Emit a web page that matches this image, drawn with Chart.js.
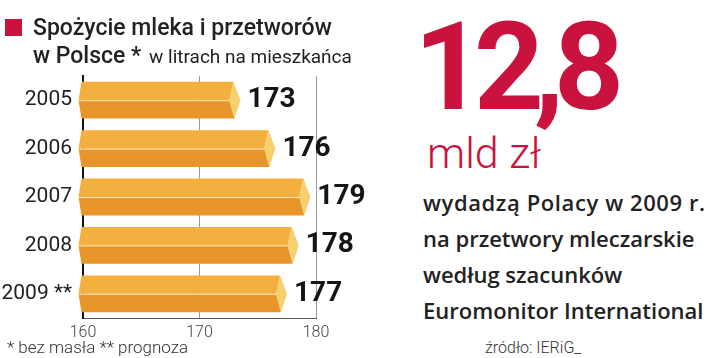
<!DOCTYPE html>
<html>
<head>
<meta charset="utf-8">
<script src="https://cdn.jsdelivr.net/npm/chart.js@4.4.0/dist/chart.umd.min.js"></script>
<style>
  html, body { margin: 0; padding: 0; background: #fff; }
  #wrap { position: relative; width: 720px; height: 358px; overflow: hidden; font-family: Roboto, sans-serif; }
  #wrap canvas { position: absolute; left: 0; top: 0; }
  .t { position: absolute; white-space: nowrap; line-height: 1; }
  .op { font-family: "Open Sans", sans-serif; }
</style>
</head>
<body>
<div id="wrap">
  <canvas id="myChart" width="400" height="358"></canvas>

  <div style="position:absolute;left:5px;top:19px;width:17px;height:17px;background:#c9123d;"></div>
  <div class="t" style="left:33px;top:16px;font-size:23px;font-weight:500;color:#222;">Spożycie mleka i przetworów</div>
  <div class="t" style="left:33px;top:44px;font-size:23px;font-weight:500;color:#222;">w Polsce * <span style="font-size:19px;font-weight:400;margin-left:2px;">w litrach na mieszkańca</span></div>
  <div class="t" style="left:7px;top:339px;font-size:17px;font-weight:300;color:#333;">* bez masła ** prognoza</div>

  <div class="t" style="left:414px;top:7px;font-size:122px;font-weight:700;color:#c9123d;letter-spacing:-10px;">12,8</div>
  <div class="t" style="left:427px;top:132px;font-size:43px;font-weight:300;color:#c9123d;">mld zł</div>

  <div class="t op" style="left:423px;top:191px;font-size:22px;font-weight:600;color:#222;letter-spacing:0.6px;">wydadzą Polacy w 2009 r.</div>
  <div class="t op" style="left:423px;top:227px;font-size:22px;font-weight:600;color:#222;">na przetwory mleczarskie</div>
  <div class="t op" style="left:423px;top:263px;font-size:22px;font-weight:600;color:#222;">według szacunków</div>
  <div class="t op" style="left:423px;top:299px;font-size:22px;font-weight:600;color:#222;">Euromonitor International</div>
  <div class="t" style="left:485px;top:340px;font-size:16px;font-weight:300;color:#333;">źródło: IERiG_</div>
</div>

<script>
// dane
const lata = ['2005', '2006', '2007', '2008', '2009 **'];
const spozycie = [173, 176, 179, 178, 177];
const osX = [160, 170, 180];

// rysowanie "trojwymiarowych" slupkow
const slupki3d = {
    id: 'slupki3d',
    afterDatasetsDraw(chart) {
        const ctx = chart.ctx;
        const meta = chart.getDatasetMeta(0);
        meta.data.forEach(function (el, i) {
            const t = el.y - el.height / 2;
            const b = el.y + el.height / 2;
            const m = el.y;
            const x0 = el.base - 5;
            const xe = el.x - 1;

            ctx.save();
            // gorna polowa
            ctx.fillStyle = '#f3b03e';
            ctx.beginPath();
            ctx.moveTo(x0 + 3, t);
            ctx.lineTo(xe, t);
            ctx.lineTo(xe - 4, m);
            ctx.lineTo(x0, m);
            ctx.closePath();
            ctx.fill();
            // dolna polowa
            ctx.fillStyle = '#e8962a';
            ctx.beginPath();
            ctx.moveTo(x0, m);
            ctx.lineTo(xe - 4, m);
            ctx.lineTo(xe + 1, b);
            ctx.lineTo(x0 + 3, b);
            ctx.closePath();
            ctx.fill();
            // czolo
            ctx.fillStyle = '#f6d06f';
            ctx.beginPath();
            ctx.moveTo(xe, t);
            ctx.lineTo(xe + 7, m);
            ctx.lineTo(xe + 1, b);
            ctx.lineTo(xe - 4, m);
            ctx.closePath();
            ctx.fill();
            // linia srodkowa
            ctx.strokeStyle = '#fbe6b8';
            ctx.lineWidth = 1;
            ctx.beginPath();
            ctx.moveTo(x0, m + 0.5);
            ctx.lineTo(xe - 4, m + 0.5);
            ctx.stroke();

            // wartosc
            ctx.fillStyle = '#151515';
            ctx.font = 'bold 28px Roboto';
            ctx.textBaseline = 'alphabetic';
            ctx.textAlign = 'left';
            ctx.fillText(String(spozycie[i]), el.x + 13, m + 7);
            ctx.restore();
        });
    }
};

const ctx = document.getElementById('myChart').getContext('2d');
const myChart = new Chart(ctx, {
    type: 'bar',
    data: {
        labels: lata,
        datasets: [{
            data: spozycie,
            base: osX[0],
            backgroundColor: 'rgba(0,0,0,0)',
            barPercentage: 0.76,
            categoryPercentage: 1
        }]
    },
    options: {
        indexAxis: 'y',
        responsive: false,
        animation: false,
        layout: {
            padding: { left: 0, top: 76, right: 84, bottom: 0 }
        },
        plugins: {
            legend: { display: false },
            tooltip: { enabled: false }
        },
        scales: {
            x: {
                min: osX[0],
                max: osX[osX.length - 1],
                afterBuildTicks: function (scale) {
                    scale.ticks = osX.map(v => ({ value: v }));
                },
                afterFit: function (scale) { scale.height = 40; },
                grid: {
                    drawTicks: false,
                    color: c => (c.tick && c.tick.value === 160) ? 'rgba(0,0,0,0)' : '#9a9a9a',
                    lineWidth: 1
                },
                border: { color: '#555', width: 1 },
                ticks: {
                    padding: 5,
                    color: '#444',
                    font: { family: 'Roboto', size: 16, weight: '300' }
                }
            },
            y: {
                afterFit: function (scale) { scale.width = 83; },
                grid: { display: false },
                border: { color: '#111', width: 2 },
                ticks: {
                    padding: 3,
                    color: '#222',
                    font: { family: 'Roboto', size: 21 }
                }
            }
        }
    },
    plugins: [slupki3d]
});
</script>
</body>
</html>
